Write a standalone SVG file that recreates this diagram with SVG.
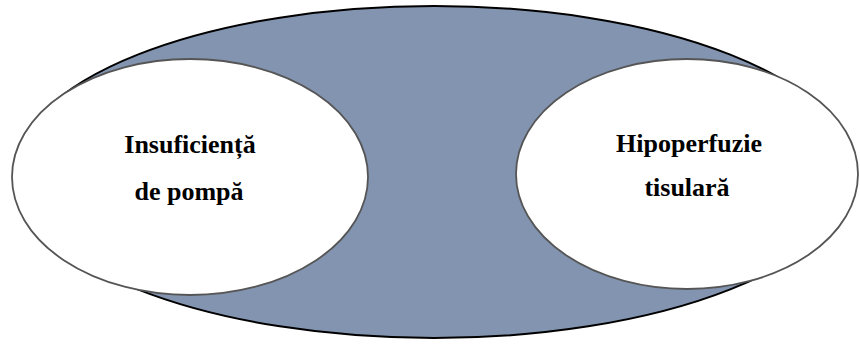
<svg xmlns="http://www.w3.org/2000/svg" width="860" height="345" viewBox="0 0 860 345">
<style>
text{font-family:"Liberation Serif","Times New Roman","DejaVu Serif",serif;font-weight:700;font-size:26px;fill:#000;text-anchor:middle}
.inner{fill:#fff;stroke:#555;stroke-width:1.8}
</style>
<rect width="860" height="345" fill="#fff"/>
<g id="outer"><ellipse cx="434" cy="172" rx="419" ry="166" fill="#8394B0" stroke="#000" stroke-width="2"/></g>
<g id="left"><ellipse class="inner" cx="190" cy="177" rx="178" ry="118"/>
<text x="190" y="153">Insuficiență</text>
<text x="189" y="200">de pompă</text></g>
<g id="right"><ellipse class="inner" cx="687" cy="174" rx="171" ry="115"/>
<text x="689" y="152">Hipoperfuzie</text>
<text x="687" y="196">tisulară</text></g>
<g id="connectors"/>
</svg>
